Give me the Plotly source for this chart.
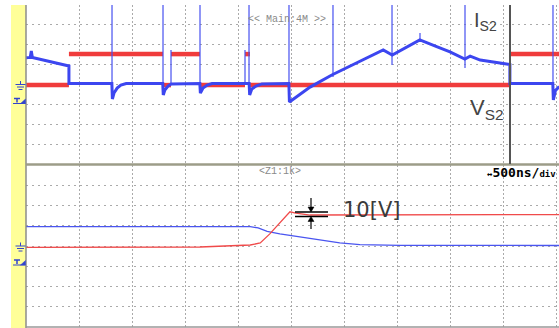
import plotly.graph_objects as go

# ---- waveform data (x in divisions, y in divisions) ----
# upper window: switching waveforms
TOP_VS2_X = [0.0, 0.81, 0.81, 2.585, 2.585, 2.736, 2.736, 3.283, 3.283, 4.132, 4.132, 4.226, 4.226, 9.132, 9.132, 10.06]
TOP_VS2_Y = [-0.03, -0.03, 1.53, 1.53, -0.03, -0.03, 1.53, 1.53, -0.03, -0.03, 1.53, 1.53, -0.03, -0.03, 1.53, 1.53]

TOP_IS2_X = [0.0, 0.08, 0.10, 0.12, 0.81, 0.81,
             1.62, 1.63, 1.66, 1.72, 1.79, 1.89,
             2.58, 2.59, 2.62, 2.68, 2.74,
             3.28, 3.29, 3.34, 3.42, 3.51,
             4.21, 4.22, 4.26, 4.34, 4.45,
             4.96, 4.97, 5.36, 5.77, 6.74, 6.91, 7.43,
             7.76, 8.00, 8.28, 8.38, 8.57, 8.85, 9.13, 9.13,
             9.94, 9.95, 9.99, 10.06]
TOP_IS2_Y = [1.34, 1.36, 1.69, 1.36, 0.93, 0.05,
             0.05, -0.73, -0.43, -0.18, -0.03, 0.05,
             0.05, -0.53, -0.28, -0.08, 0.03,
             0.05, -0.43, -0.18, -0.03, 0.05,
             0.05, -0.53, -0.23, -0.08, 0.03,
             0.05, -0.88, -0.13, 0.48, 1.74, 1.48, 2.24,
             1.89, 1.64, 1.28, 1.43, 1.23, 1.11, 1.01, 0.05,
             0.05, -0.78, -0.30, -0.10]

# fast current spikes at the switching edges
SPIKE_X = [1.623, 2.585, 2.736, 3.283, 4.132, 4.208, 4.962, 5.792, 6.906, 7.434, 8.283, 9.943]
SPIKE_TOP = [4.0, 4.0, 1.74, 4.0, 1.74, 4.0, 4.0, 4.0, 4.0, 2.59, 4.0, 4.0]
SPIKE_BOTTOM = [0.05, 0.05, 0.05, 0.05, 0.05, 0.05, -0.88, 0.38, 0.98, 2.24, 0.83, -0.78]

# lower window: zoomed transition (500 ns/div)
BOT_IS2_X = [0.0, 4.23, 4.38, 4.55, 4.79, 5.17, 5.55, 5.92, 6.30, 7.06, 10.06]
BOT_IS2_Y = [0.96, 0.96, 0.89, 0.72, 0.60, 0.44, 0.30, 0.15, 0.07, 0.035, 0.025]
BOT_VS2_X = [0.0, 3.28, 4.23, 4.42, 4.60, 4.79, 4.98, 5.09, 5.36, 10.06]
BOT_VS2_Y = [-0.07, -0.05, 0.05, 0.15, 0.60, 1.14, 1.69, 1.62, 1.53, 1.55]

W, H = 559, 328
RED = "#F03C3C"
BLUE = "#3C46F0"
MARK = "#3344CC"


def px(x):
    return x / W


def py(y):
    return 1 - y / H


def level_segments(xs, ys):
    """Keep only the flat parts of a step trace; the fast edges are not drawn."""
    ox, oy = [], []
    for i in range(len(xs) - 1):
        if xs[i] == xs[i + 1]:
            ox.append(None)
            oy.append(None)
            continue
        if not ox or ox[-1] is None:
            ox.append(xs[i])
            oy.append(ys[i])
        ox.append(xs[i + 1])
        oy.append(ys[i + 1])
    return ox, oy


fig = go.Figure()

vx, vy = level_segments(TOP_VS2_X, TOP_VS2_Y)
fig.add_trace(go.Scatter(x=vx, y=vy, mode="lines", connectgaps=False,
                         line=dict(color=RED, width=4.5), xaxis="x", yaxis="y"))

sx, sy = [], []
for x, t, b in zip(SPIKE_X, SPIKE_TOP, SPIKE_BOTTOM):
    sx += [x, x, None]
    sy += [t, b, None]
fig.add_trace(go.Scatter(x=sx, y=sy, mode="lines",
                         line=dict(color="rgba(70,80,240,0.8)", width=1.5), xaxis="x", yaxis="y"))

fig.add_trace(go.Scatter(x=TOP_IS2_X, y=TOP_IS2_Y, mode="lines",
                         line=dict(color=BLUE, width=3), xaxis="x", yaxis="y"))

fig.add_trace(go.Scatter(x=BOT_IS2_X, y=BOT_IS2_Y, mode="lines",
                         line=dict(color="#4A55F0", width=1.3), xaxis="x2", yaxis="y2"))
fig.add_trace(go.Scatter(x=BOT_VS2_X, y=BOT_VS2_Y, mode="lines",
                         line=dict(color="#F04A4A", width=1.3), xaxis="x2", yaxis="y2"))

xrange = [0, (W - 26) / 53]
xdom = [26 / W, 1]
xgrid = dict(range=xrange, domain=xdom, showgrid=True, gridcolor="#aaaaaa", griddash="2px,2px",
             gridwidth=1, tick0=0, dtick=1, zeroline=False, showticklabels=False, ticks="",
             fixedrange=True)
ygrid = dict(range=[-4, 4], showgrid=True, gridcolor="#aaaaaa", griddash="2px,4px",
             gridwidth=1, tick0=0, dtick=1, zeroline=False, showticklabels=False, ticks="")

fig.update_layout(
    width=W, height=H, margin=dict(l=0, r=0, t=0, b=0),
    paper_bgcolor="white", plot_bgcolor="white", showlegend=False,
    xaxis=dict(**xgrid, anchor="y"),
    yaxis=dict(**ygrid, domain=[py(164), py(5)], anchor="x"),
    xaxis2=dict(**xgrid, anchor="y2"),
    yaxis2=dict(**ygrid, domain=[py(327), py(165)], anchor="x2"),
)


def pline(x0, y0, x1, y1, color, width):
    return dict(type="line", xref="paper", yref="paper", x0=px(x0), x1=px(x1), y0=py(y0), y1=py(y1),
                line=dict(color=color, width=width))


def ptri(pts, color):
    path = "M " + " L ".join(f"{px(a)} {py(b)}" for a, b in pts) + " Z"
    return dict(type="path", xref="paper", yref="paper", path=path,
                fillcolor=color, line=dict(color=color, width=0.5))


shapes = []
# yellow channel strip
shapes.append(dict(type="rect", xref="paper", yref="paper", x0=px(11), x1=px(26), y0=py(328), y1=py(5),
                   fillcolor="#FFFF99", line=dict(width=0), layer="below"))
# frame lines
shapes.append(pline(26, 328, 26, 5, "#8c8c8c", 1.5))
shapes.append(pline(26, 164.5, W, 164.5, "#9c9c88", 2.5))
shapes.append(pline(26, 327, W, 327, "#999999", 1.5))
# cursor line in the upper window
shapes.append(dict(type="line", xref="x", yref="paper", x0=9.132, x1=9.132, y0=py(164), y1=py(5),
                   line=dict(color="#555555", width=2)))

# ground and trigger markers for both windows
for cy in (84.5, 246):
    shapes.append(pline(20.5, cy - 3.5, 20.5, cy, MARK, 1))
    for dy, half in ((0, 5), (2.5, 3.5), (5, 2)):
        shapes.append(pline(20.5 - half, cy + dy, 20.5 + half, cy + dy, MARK, 1))
    ty = cy + 19
    shapes.append(pline(14, ty - 5, 20, ty - 5, MARK, 1.5))
    shapes.append(pline(17, ty - 5, 17, ty - 1, MARK, 1.5))
    shapes.append(pline(13, ty, 25.5, ty, MARK, 1))
    shapes.append(ptri([(20.5, ty), (25.5, ty), (25.5, ty - 4.5)], MARK))

# 10 V measurement bars with arrows
for yb in (212, 216.5):
    shapes.append(pline(295, yb, 328, yb, "black", 1.3))
shapes.append(pline(311, 198, 311, 208, "black", 1.2))
shapes.append(ptri([(308, 207), (314, 207), (311, 212)], "black"))
shapes.append(pline(311, 220.5, 311, 229, "black", 1.2))
shapes.append(ptri([(308, 221.5), (314, 221.5), (311, 216.5)], "black"))

fig.update_layout(shapes=shapes)

ann = [
    dict(x=px(287), y=py(12), text="<< Main:4M >>",
         font=dict(family="Liberation Mono", size=10, color="#8a8a8a")),
    dict(x=px(280), y=py(171.5), text="<Z1:1k>",
         font=dict(family="Liberation Mono", size=10, color="#8a8a8a")),
    dict(x=px(485), y=py(172.5), xanchor="left",
         text="<b><span style='font-size:9px'>↔</span>500ns/<span style='font-size:9px'>div</span></b>",
         font=dict(family="DejaVu Sans Mono", size=13, color="black")),
    dict(x=px(472), y=py(7), xanchor="left", text="I<sub>S2</sub>",
         font=dict(family="Liberation Sans", size=20, color="#444444")),
    dict(x=px(468), y=py(93), xanchor="left", text="V<sub>S2</sub>",
         font=dict(family="Liberation Sans", size=22, color="#444444")),
    dict(x=px(341), y=py(209.5), xanchor="left", text="10[V]",
         font=dict(family="DejaVu Sans", size=21, color="#3a3a3a")),
]
for a in ann:
    a.setdefault("xref", "paper")
    a.setdefault("yref", "paper")
    a.setdefault("showarrow", False)
fig.update_layout(annotations=ann)

fig.write_html("out.html")
